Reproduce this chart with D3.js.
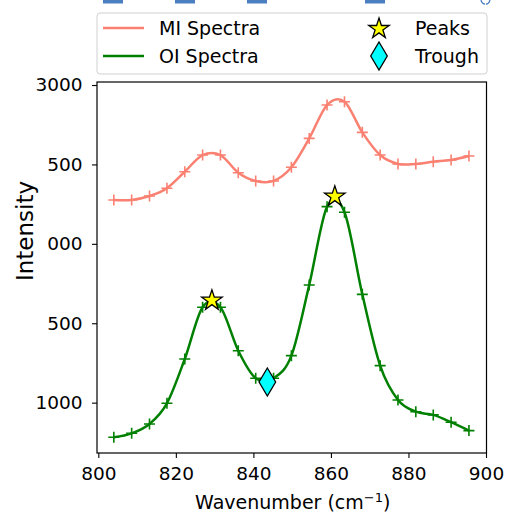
<!DOCTYPE html>
<html>
<head>
<meta charset="utf-8">
<script src="https://cdn.jsdelivr.net/npm/d3@7/dist/d3.min.js"></script>
<style>
  html, body { margin: 0; padding: 0; background: #fff; }
  svg { display: block; font-family: "DejaVu Sans", sans-serif; }
</style>
</head>
<body>
<svg id="chart" width="505" height="513"></svg>
<script>
// ---- data ----
const wavenumbers = [804.0, 808.6, 813.2, 817.7, 822.3, 826.9, 831.5, 836.1, 840.6, 845.2, 849.8,
                     854.4, 859.0, 863.5, 868.1, 872.7, 877.3, 881.9, 886.4, 891.0, 895.6];
const miSpectra = [2276, 2276, 2301, 2350, 2454, 2559, 2559, 2448, 2396, 2396, 2482,
                   2664, 2874, 2895, 2702, 2559, 2503, 2503, 2517, 2528, 2553];
const oiSpectra = [782, 807, 866, 996, 1275, 1601, 1601, 1327, 1154, 1154, 1296,
                   1741, 2234, 2199, 1682, 1233, 1017, 943, 923, 877, 824];
const peakX = [829.3, 861.0];
const peakY = [1648, 2303];
const troughX = [843.6];
const troughY = [1130];
const xTicks = [800, 820, 840, 860, 880, 900];
const yTicks = [3000, 2500, 2000, 1500, 1000];
const yTickLabels = ["3000", "500", "000", "500", "1000"];
const seriesNames = ["MI Spectra", "OI Spectra"];
const markerNames = ["Peaks", "Trough"];
const xLabel = "Wavenumber (cm";
const yLabel = "Intensity";

// ---- layout ----
const svg = d3.select("#chart");
const L = 97, R = 486.5, T = 82, B = 453;
const x = d3.scaleLinear().domain([799.66, 900.13]).range([L, R]);
const y = d3.scaleLinear().domain([683, 3019]).range([B, T]);

const miColor = "#fa8072", oiColor = "#008000";

// clipped artefact strip at the top (blue dashes)
const strip = svg.append("g");
[[103, 123], [175, 195], [247, 267], [365, 385]].forEach(d => {
  strip.append("rect").attr("x", d[0]).attr("y", 0).attr("width", d[1] - d[0]).attr("height", 3.5)
    .attr("fill", "#4a7fc1");
});
strip.append("path").attr("d", "M481,0 Q482,4 485,4").attr("fill", "none").attr("stroke", "#4a7fc1").attr("stroke-width", 1.3);
strip.append("path").attr("d", "M486,4 Q489,4 490,0").attr("fill", "none").attr("stroke", "#4a7fc1").attr("stroke-width", 1.3);

// axes
const xAxis = d3.axisBottom(x).tickValues(xTicks).tickSize(5).tickPadding(9).tickFormat(d3.format("d"));
const yAxis = d3.axisLeft(y).tickValues(yTicks).tickSize(5).tickPadding(9.5)
  .tickFormat((d, i) => yTickLabels[i]);

const gx = svg.append("g").attr("transform", `translate(0,${B})`).call(xAxis);
const gy = svg.append("g").attr("transform", `translate(${L},0)`).call(yAxis);
[gx, gy].forEach(g => {
  g.select(".domain").remove();
  g.selectAll(".tick line").attr("stroke", "#000").attr("stroke-width", 1.1);
  g.selectAll(".tick text").attr("fill", "#000").style("font-size", "18.5px").style("font-family", "DejaVu Sans");
});

// frame
svg.append("rect").attr("x", L).attr("y", T).attr("width", R - L).attr("height", B - T)
  .attr("fill", "none").attr("stroke", "#000").attr("stroke-width", 1.2);

// lines
const line = d3.line().x(d => x(d[0])).y(d => y(d[1])).curve(d3.curveCatmullRom.alpha(0));
const miData = wavenumbers.map((w, i) => [w, miSpectra[i]]);
const oiData = wavenumbers.map((w, i) => [w, oiSpectra[i]]);

svg.append("path").datum(miData).attr("d", line).attr("fill", "none")
  .attr("stroke", miColor).attr("stroke-width", 2.5);
svg.append("path").datum(oiData).attr("d", line).attr("fill", "none")
  .attr("stroke", oiColor).attr("stroke-width", 2.5);

function cross(g, cx, cy, color) {
  g.append("path").attr("d", `M${cx - 5.5},${cy}H${cx + 5.5}M${cx},${cy - 5.5}V${cy + 5.5}`)
    .attr("stroke", color).attr("stroke-width", 1.6).attr("fill", "none");
}
const gm = svg.append("g");
miData.forEach(d => cross(gm, x(d[0]), y(d[1]), miColor));
oiData.forEach(d => cross(gm, x(d[0]), y(d[1]), oiColor));

// star and diamond
const starPath = d3.symbol().type(d3.symbolStar).size(130)();
function star(g, cx, cy) {
  g.append("path").attr("d", starPath).attr("transform", `translate(${cx},${cy + 0.8})`)
    .attr("fill", "#ffff00").attr("stroke", "#000").attr("stroke-width", 1.3);
}
function diamond(g, cx, cy) {
  g.append("path").attr("d", `M${cx},${cy - 14}L${cx + 8.3},${cy}L${cx},${cy + 14}L${cx - 8.3},${cy}Z`)
    .attr("fill", "#00ffff").attr("stroke", "#000").attr("stroke-width", 1.3);
}
peakX.forEach((px, i) => star(gm, x(px), y(peakY[i])));
troughX.forEach((tx, i) => diamond(gm, x(tx), y(troughY[i])));

// axis labels
const xl = svg.append("text").attr("x", (L + R) / 2 + 1).attr("y", 508.5).attr("text-anchor", "middle")
  .style("font-size", "19px").attr("fill", "#000");
xl.append("tspan").text(xLabel);
xl.append("tspan").text("\u22121").attr("dy", -7).style("font-size", "13px");
xl.append("tspan").text(")").attr("dy", 7);

svg.append("text").attr("transform", `translate(32.5,${(T + B) / 2 - 36.5}) rotate(-90)`)
  .attr("text-anchor", "middle").style("font-size", "23px").attr("fill", "#000").text(yLabel);

// legend
const lg = svg.append("g");
lg.append("rect").attr("x", 97).attr("y", 13).attr("width", 390).attr("height", 61).attr("rx", 3)
  .attr("fill", "#fff").attr("fill-opacity", 0.8).attr("stroke", "#d0d0d0").attr("stroke-width", 1);
const rowsY = [28, 56];
[miColor, oiColor].forEach((c, i) => {
  lg.append("line").attr("x1", 103).attr("x2", 144).attr("y1", rowsY[i]).attr("y2", rowsY[i])
    .attr("stroke", c).attr("stroke-width", 2.5);
  lg.append("text").attr("x", 159).attr("y", rowsY[i] + 7).style("font-size", "19px").attr("fill", "#000")
    .text(seriesNames[i]);
});
star(lg, 379, rowsY[0]);
diamond(lg, 379, rowsY[1]);
markerNames.forEach((n, i) => {
  lg.append("text").attr("x", 415).attr("y", rowsY[i] + 7).style("font-size", "19px").attr("fill", "#000").text(n);
});
</script>
</body>
</html>
